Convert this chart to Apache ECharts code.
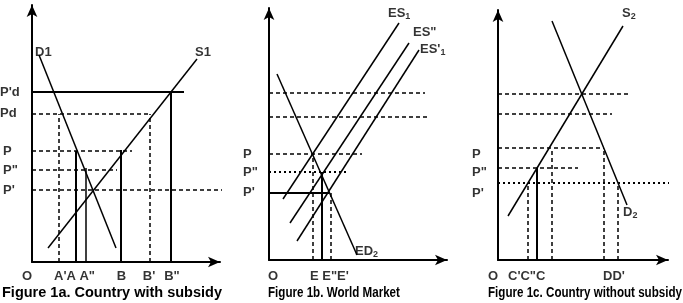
<!DOCTYPE html>
<html><head><meta charset="utf-8">
<script src="https://cdn.jsdelivr.net/npm/echarts@6/dist/echarts.min.js"></script>
<style>html,body{margin:0;padding:0;background:#fff}#c{width:683px;height:303px}</style>
</head><body><div id="c"></div>
<script>
// ---------- Figure 1a: Country with subsidy (units measured from origin) ----------
const a_D1 = [[7,207],[84,14]];
const a_S1 = [[16,14],[165,203]];
const a_hLines = [[170,152],[148,118],[111,100],[92,85],[72,190]];      // [price level, end x]
const a_vLines = [[27,148],[44,111],[54,94],[89,112],[118,148],[139,170]]; // [quantity, top]
const a_labels = [
  ["P'd",-32,170,'left'],["Pd",-32,149,'left'],["P",-29,111,'left'],['P"',-29,92,'left'],["P'",-29,72,'left'],
  ["O",-5,-14,'center'],["A'A A\"",22,-14,'left'],["B",89.5,-14,'center'],["B'",117,-14,'center'],['B"',140,-14,'center'],
  ["D1",3,210,'left'],["S1",163,210,'left']
];
const a_caption = ["Figure 1a. Country with subsidy",-30,-31];

// ---------- Figure 1b: World Market ----------
const b_ED2 = [[8,186],[88,5]];
const b_ES1 = [[14,61],[130,237]];
const b_ESpp = [[21,37],[140,217]];
const b_ESp1 = [[28,19],[150,210]];
const b_hLines = [[167,156],[143,159],[106,93],[88,80],[67,60]];
const b_vLines = [[44,106],[53,88],[62,67]];
const b_labels = [
  ["P",-26,106,'left'],['P"',-26,88,'left'],["P'",-26,68,'left'],
  ["O",4,-16,'center'],["E E\"E'",41,-16,'left'],
  ["ES{s|1}",119,247,'left'],['ES"',144,228,'left'],["ES'{s|1}",151,211,'left'],["ED{s|2}",86,9,'left']
];
const b_caption = ["Figure 1b. World Market",-1,-33];

// ---------- Figure 1c: Country without subsidy ----------
const c_S2 = [[10,44],[125,234]];
const c_D2 = [[54,239],[129,55]];
const c_hLines = [[166,133],[146,114],[112,106],[92,80],[77,173]];
const c_vLines = [[30,77],[39,92],[54,112],[106,112],[120,77]];
const c_labels = [
  ["P",-26,106,'left'],['P"',-26,88,'left'],["P'",-26,67,'left'],
  ["O",-5,-16,'center'],["C'C\"C",10,-16,'left'],["DD'",105,-16,'left'],
  ["S{s|2}",124,247,'left'],["D{s|2}",125,48,'left']
];
const c_caption = ["Figure 1c. Country without subsidy",-10,-33];

// ---------- styles (kept apart from data) ----------
const FONT = "'Liberation Sans Narrow','Liberation Sans',Arial,sans-serif";
const ST = {
  curve: {color:'#000', width:1.5, type:'solid'},
  solid: {color:'#000', width:2, type:'solid'},
  thin:  {color:'#000', width:1.5, type:'solid'},
  dash:  {color:'#000', width:1.5, type:[4,3]},
  dot:   {color:'#000', width:2, type:[2,3]}
};
const a_hStyle = ['solid','dash','dash','dash','dash'];
const a_vStyle = ['dash','solid','thin','solid','dash','solid'];
const b_hStyle = ['dash','dash','dash','dot','solid'];
const b_vStyle = ['dash','solid','dash'];
const c_hStyle = ['dash','dash','dash','dash','dot'];
const c_vStyle = ['dash','solid','dash','dash','dash'];
const captionScale = [1, 0.8, 0.8];

const grids = [
  {left:32, top:5, width:188, height:257},
  {left:269, top:8, width:178, height:252},
  {left:498, top:10, width:170, height:250}
];
const axisLine = {show:true, lineStyle:{color:'#000', width:2}, symbol:['none','arrow'], symbolSize:[8,12]};
const xAxes = grids.map((g,i)=>({type:'value', gridIndex:i, min:0, max:g.width, axisLine,
  axisTick:{show:false}, axisLabel:{show:false}, splitLine:{show:false}}));
const yAxes = grids.map((g,i)=>({type:'value', gridIndex:i, min:0, max:g.height, axisLine,
  axisTick:{show:false}, axisLabel:{show:false}, splitLine:{show:false}}));

const series = [];
function seg(panel, pts, style){
  series.push({type:'line', xAxisIndex:panel, yAxisIndex:panel, data:pts, showSymbol:false,
    clip:false, silent:true, animation:false, lineStyle:ST[style]});
}
function panel(i, curves, hLines, hStyle, vLines, vStyle, labels){
  curves.forEach(c=>seg(i, c, 'curve'));
  hLines.forEach((h,k)=>seg(i, [[0,h[0]],[h[1],h[0]]], hStyle[k]));
  vLines.forEach((v,k)=>seg(i, [[v[0],0],[v[0],v[1]]], vStyle[k]));
  labels.forEach(l=>{
    series.push({type:'scatter', xAxisIndex:i, yAxisIndex:i, symbolSize:0, clip:false, silent:true, animation:false,
      data:[{value:[l[1],l[2]]}],
      label:{show:true, position:[0,0], align:l[3], verticalAlign:'middle', formatter:l[0],
        color:'#000', fontFamily:FONT, fontSize:13, fontWeight:'bold',
        rich:{s:{fontFamily:FONT, fontSize:9, fontWeight:'bold', color:'#000', padding:[7,0,0,0]}}}});
  });
}
panel(0, [a_D1,a_S1], a_hLines, a_hStyle, a_vLines, a_vStyle, a_labels);
panel(1, [b_ED2,b_ES1,b_ESpp,b_ESp1], b_hLines, b_hStyle, b_vLines, b_vStyle, b_labels);
panel(2, [c_S2,c_D2], c_hLines, c_hStyle, c_vLines, c_vStyle, c_labels);

const chart = echarts.init(document.getElementById('c'), null, {renderer:'canvas'});
chart.setOption({animation:false, backgroundColor:'#fff', grid:grids, xAxis:xAxes, yAxis:yAxes, series});

// captions, placed through each panel's own coordinate system
const captions = [a_caption, b_caption, c_caption];
chart.setOption({graphic: captions.map((c,i)=>{
  const p = chart.convertToPixel({gridIndex:i}, [c[1], c[2]]);
  return {type:'text', x:p[0], y:p[1], scaleX:captionScale[i], silent:true,
    style:{text:c[0], fill:'#000', font:"bold 14.5px " + FONT, textAlign:'left', textVerticalAlign:'middle',
      align:'left', verticalAlign:'middle'}};
})});
</script></body></html>
